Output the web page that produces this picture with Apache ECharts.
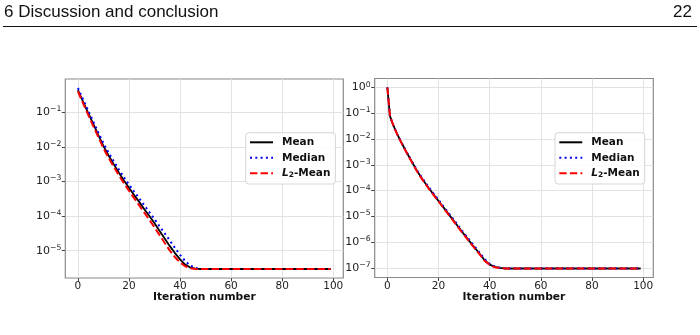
<!DOCTYPE html>
<html>
<head>
<meta charset="utf-8">
<script src="https://cdn.jsdelivr.net/npm/echarts@6/dist/echarts.min.js"></script>
<style>
  html, body, #main { width: 700px; height: 335px; margin: 0; background: #fff; }
</style>
</head>
<body>
<div id="main"></div>
<script>
// iterations (plateau is flat after ~48)
var iterLeft = [0,2,4,6,8,10,12,14,16,18,20,22,24,26,28,30,32,34,36,38,40,42,44,46,48,50,60,70,80,90,99];
var meanLeft = [4.37e-1,2.04e-1,9.55e-2,4.57e-2,2.19e-2,1.05e-2,5.62e-3,3.16e-3,1.82e-3,1.07e-3,6.61e-4,4.07e-4,2.57e-4,1.58e-4,1.00e-4,6.17e-5,3.72e-5,2.24e-5,1.35e-5,8.51e-6,5.62e-6,3.98e-6,3.24e-6,3.02e-6,2.95e-6,2.95e-6,2.95e-6,2.95e-6,2.95e-6,2.95e-6,2.95e-6];
var medianLeft = [5.01e-1,2.34e-1,1.12e-1,5.37e-2,2.57e-2,1.26e-2,6.76e-3,3.89e-3,2.24e-3,1.32e-3,8.13e-4,5.13e-4,3.24e-4,2.04e-4,1.29e-4,8.13e-5,5.01e-5,3.16e-5,1.95e-5,1.20e-5,7.59e-6,5.01e-6,3.72e-6,3.16e-6,2.95e-6,2.95e-6,2.95e-6,2.95e-6,2.95e-6,2.95e-6,2.95e-6];
var l2Left = [3.98e-1,1.82e-1,8.51e-2,3.98e-2,1.91e-2,9.12e-3,4.79e-3,2.69e-3,1.51e-3,8.91e-4,5.37e-4,3.31e-4,2.04e-4,1.26e-4,7.76e-5,4.68e-5,2.82e-5,1.66e-5,1.00e-5,6.46e-6,4.57e-6,3.55e-6,3.09e-6,2.95e-6,2.95e-6,2.95e-6,2.95e-6,2.95e-6,2.95e-6,2.95e-6,2.95e-6];

var iterRight = [0,1,2,3,4,5,6,7,8,9,10,12,14,16,18,20,22,24,26,28,30,32,34,36,38,40,42,44,46,48,50,60,70,80,90,99];
var meanRight = [1,7.94e-2,4.17e-2,2.40e-2,1.45e-2,9.12e-3,5.89e-3,3.80e-3,2.51e-3,1.66e-3,1.10e-3,5.01e-4,2.51e-4,1.32e-4,7.24e-5,3.98e-5,2.19e-5,1.20e-5,6.61e-6,3.63e-6,2.00e-6,1.12e-6,6.31e-7,3.63e-7,2.00e-7,1.35e-7,1.10e-7,1.00e-7,9.55e-8,9.55e-8,9.55e-8,9.55e-8,9.55e-8,9.55e-8,9.55e-8,9.55e-8];
var medianRight = [1,7.4e-2,4.1e-2,2.4e-2,1.46e-2,9.3e-3,6.0e-3,3.9e-3,2.6e-3,1.72e-3,1.15e-3,5.3e-4,2.7e-4,1.43e-4,7.9e-5,4.4e-5,2.4e-5,1.33e-5,7.3e-6,4.0e-6,2.2e-6,1.24e-6,7.0e-7,4.0e-7,2.2e-7,1.45e-7,1.14e-7,1.02e-7,9.6e-8,9.55e-8,9.55e-8,9.55e-8,9.55e-8,9.55e-8,9.55e-8,9.55e-8];
var l2Right = [1,8.1e-2,4.2e-2,2.38e-2,1.43e-2,8.9e-3,5.7e-3,3.7e-3,2.43e-3,1.6e-3,1.05e-3,4.8e-4,2.4e-4,1.26e-4,6.9e-5,3.8e-5,2.08e-5,1.14e-5,6.3e-6,3.45e-6,1.9e-6,1.06e-6,6.0e-7,3.45e-7,1.9e-7,1.3e-7,1.07e-7,9.9e-8,9.55e-8,9.55e-8,9.55e-8,9.55e-8,9.55e-8,9.55e-8,9.55e-8,9.55e-8];

// tick labels (y ticks are powers of ten, stored as exponents)
var xTicks = [0, 20, 40, 60, 80, 100];
var yExpLeft = [-5, -4, -3, -2, -1];
var yExpRight = [-7, -6, -5, -4, -3, -2, -1, 0];
var seriesNames = ['Mean', 'Median', 'L2-Mean'];

var chart = echarts.init(document.getElementById('main'), null, {renderer: 'canvas'});

function pairs(xs, ys) {
    return xs.map(function (x, i) { return [x, Math.log10(ys[i])]; });
}

function yLabel(v) {
    if (Math.abs(v - Math.round(v)) > 1e-6) return '';
    var e = Math.round(v);
    return '{a|10}{b|' + (e < 0 ? '\u2212' : '') + Math.abs(e) + '}';
}

function xAxis(idx) {
    return {
        type: 'value', gridIndex: idx, min: -4.95, max: 103.95,
        minInterval: 20, maxInterval: 20,
        name: 'Iteration number', nameLocation: 'middle', nameGap: 14, nameMoveOverlap: false,
        nameTextStyle: {fontFamily: 'DejaVu Sans', fontWeight: 'bold', fontSize: 10.7, color: '#111', verticalAlign: 'top'},
        axisLine: {show: false, onZero: false},
        axisTick: {show: true, length: 3.5, customValues: xTicks, lineStyle: {color: '#444'}},
        axisLabel: {
            margin: 3, customValues: xTicks,
            color: '#222', fontFamily: 'DejaVu Sans', fontSize: 10.5,
            formatter: function (v) { return xTicks.indexOf(v) >= 0 ? String(v) : ''; }
        },
        splitLine: {show: true, lineStyle: {color: '#e3e3e3', width: 1}}
    };
}

function yAxis(idx, lo, hi, exps) {
    return {
        type: 'value', gridIndex: idx, min: lo, max: hi,
        minInterval: 1, maxInterval: 1,
        axisLine: {show: false, onZero: false},
        axisTick: {show: true, length: 3.5, customValues: exps, lineStyle: {color: '#444'}},
        axisLabel: {
            margin: 4, formatter: yLabel, customValues: exps,
            rich: {
                a: {fontFamily: 'DejaVu Sans', fontSize: 11, color: '#222', lineHeight: 14},
                b: {fontFamily: 'DejaVu Sans', fontSize: 7.7, color: '#222', lineHeight: 7, verticalAlign: 'top'}
            }
        },
        splitLine: {show: true, lineStyle: {color: '#e3e3e3', width: 1}}
    };
}

function legend(left, top) {
    return {
        orient: 'vertical', left: left, top: top,
        data: seriesNames, selectedMode: false,
        itemWidth: 23, itemHeight: 10, itemGap: 3.5,
        padding: [3.6, 5, 4.7, 3.3],
        backgroundColor: 'rgba(255,255,255,0.85)',
        borderColor: '#d6d6d6', borderWidth: 1, borderRadius: 3,
        itemStyle: {color: 'transparent', borderWidth: 0, opacity: 0},
        textStyle: {
            fontFamily: 'DejaVu Sans', fontWeight: 'bold', fontSize: 10.5, color: '#111', lineHeight: 12,
            rich: {
                bd: {fontFamily: 'DejaVu Sans', fontWeight: 'bold', fontSize: 10.5, color: '#111', lineHeight: 12, padding: [0, 0, 0, 4]},
                it: {fontFamily: 'DejaVu Sans', fontStyle: 'italic', fontSize: 10.5, color: '#111', lineHeight: 12, padding: [0, 0, 0, 4]},
                sub: {fontFamily: 'DejaVu Sans', fontSize: 7.5, color: '#111', lineHeight: 6, verticalAlign: 'bottom'},
                bd2: {fontFamily: 'DejaVu Sans', fontWeight: 'bold', fontSize: 10.5, color: '#111', lineHeight: 12}
            }
        },
        formatter: function (n) {
            if (n === 'L2-Mean') return '{it|L}{sub|2}{bd2|-Mean}';
            return '{bd|' + n + '}';
        }
    };
}

var styles = [
    {color: '#000000', type: 'solid', width: 1.8},
    {color: '#0000ff', type: [2, 3.3], width: 2},
    {color: '#ff0000', type: [7.4, 3.2], width: 2}
];

function makeSeries(idx, xs, sets) {
    return sets.map(function (ys, k) {
        return {
            name: seriesNames[k], type: 'line', xAxisIndex: idx, yAxisIndex: idx,
            data: pairs(xs, ys), symbol: 'none', smooth: false,
            lineStyle: styles[k], itemStyle: {color: styles[k].color},
            z: 2 + k
        };
    });
}

var option = {
    animation: false,
    backgroundColor: '#ffffff',
    grid: [
        {left: 65.3, top: 79, width: 278, height: 199, show: true, borderColor: '#8a8a8a', borderWidth: 1.2, backgroundColor: '#fff'},
        {left: 374.7, top: 78.5, width: 278.6, height: 199, show: true, borderColor: '#8a8a8a', borderWidth: 1.2, backgroundColor: '#fff'}
    ],
    xAxis: [xAxis(0), xAxis(1)],
    yAxis: [yAxis(0, -5.79, -0.04, yExpLeft), yAxis(1, -7.37, 0.35, yExpRight)],
    legend: [legend(245.7, 132.7), legend(555, 132.7)],
    series: makeSeries(0, iterLeft, [meanLeft, medianLeft, l2Left])
        .concat(makeSeries(1, iterRight, [meanRight, medianRight, l2Right])),
    graphic: [
        {type: 'text', left: 4, top: 4, style: {text: '6 Discussion and conclusion', font: '17px "Liberation Sans"', fill: '#111'}},
        {type: 'text', right: 8, top: 4, style: {text: '22', font: '17px "Liberation Sans"', fill: '#111'}},
        {type: 'line', shape: {x1: 3, y1: 26.5, x2: 697, y2: 26.5}, style: {stroke: '#111', lineWidth: 1}}
    ]
};
chart.setOption(option);
</script>
</body>
</html>
